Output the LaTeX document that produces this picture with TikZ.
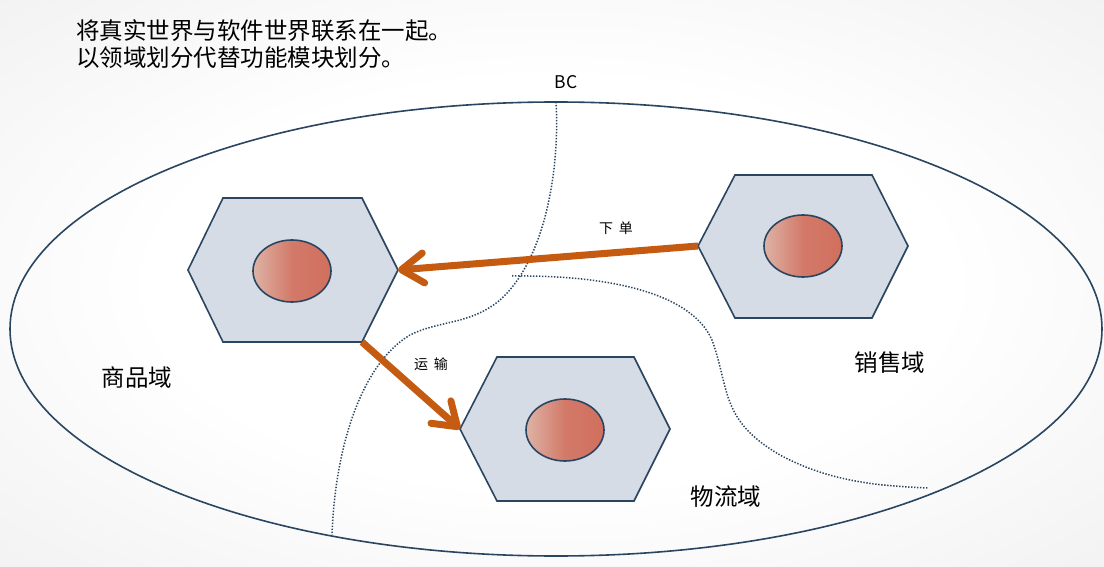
\documentclass[tikz,border=0pt]{standalone}
\usepackage{fontspec}
\setmainfont{Noto Sans CJK SC}
\newfontfamily\cjk{Noto Sans CJK SC}
\usetikzlibrary{arrows.meta}
\definecolor{hexfill}{HTML}{D6DCE5}
\definecolor{hexline}{HTML}{2A4560}
\definecolor{arrowc}{HTML}{C55A11}
\definecolor{redA}{HTML}{DDB3A6}
\definecolor{redB}{HTML}{D16F5E}
\definecolor{bgout}{HTML}{D8D8D8}
\pgfdeclareradialshading{bgshade}{\pgfpoint{0bp}{0bp}}{color(0bp)=(white); color(18bp)=(white); color(71bp)=(bgout); color(80bp)=(bgout)}
\tikzset{
  hexa/.style={draw=hexline, line width=1.6pt, fill=hexfill, line join=miter},
  core/.style={draw=hexline, line width=1.6pt, left color=redA, right color=redB, middle color=redB!85!redA},
  flow/.style={draw=arrowc, line width=7pt, -{Straight Barb[length=22pt,width=30pt,round]}},
  bcline/.style={draw=hexline, line width=1.5pt, dash pattern=on 1.4pt off 1.6pt},
  lbl/.style={font=\fontsize{23.5}{28}\selectfont, text=black, inner sep=0pt},
  hand/.style={font=\fontsize{14}{16}\selectfont, text=black, inner sep=0pt},
}
\begin{document}
\begin{tikzpicture}[x=1pt,y=-1pt]
\useasboundingbox (0,0) rectangle (1104,567);
\shade[shading=bgshade] (0,0) rectangle (1104,567);

% title
\node[lbl, anchor=west] (t1) at (76,31) {将真实世界与软件世界联系在一起。};
\node[lbl, anchor=west] (t2) at (76,58) {以领域划分代替功能模块划分。};

% big ellipse
\draw[hexline, line width=1.6pt] (556,329) ellipse [x radius=546, y radius=227];

% BC label and boundaries
\node[inner sep=0pt, font=\fontsize{17.5}{20}\selectfont] (bc) at (566,82) {BC};
\coordinate (c1a) at (556,102);
\coordinate (c1b) at (512,276);
\coordinate (c1c) at (332,535);
\coordinate (c2e) at (928,488);
\draw[bcline] (c1a) .. controls (560,170) and (545,260) .. (500,300)
   .. controls (470,325) and (440,320) .. (410,335)
   .. controls (360,365) and (335,450) .. (c1c);
\draw[bcline] (c1b) .. controls (600,275) and (690,290) .. (712,340)
   .. controls (730,390) and (720,420) .. (780,455)
   .. controls (830,482) and (880,486) .. (c2e);

% hexagons
\path[hexa] (188,270) -- (223,198) -- (362,198) -- (398,270) -- (362,342) -- (223,342) -- cycle;
\path[hexa] (698,246) -- (735,175) -- (872,175) -- (908,246) -- (872,318) -- (735,318) -- cycle;
\path[hexa] (460,429) -- (497,357) -- (634,357) -- (670,429) -- (634,501) -- (497,501) -- cycle;
\coordinate (h1r) at (398,270);
\coordinate (h1br) at (362,342);
\coordinate (h2l) at (698,246);
\coordinate (h3l) at (460,429);

\path[core] (292,271) ellipse [x radius=39, y radius=31];
\path[core] (803,246) ellipse [x radius=39, y radius=31];
\path[core] (565,430) ellipse [x radius=39, y radius=31];

% arrows
\draw[flow] (h2l) -- (h1r);
\draw[flow] (h1br) -- (h3l);

\node[hand] (xd) at (616,228) {下\hspace{6pt}单};
\node[hand] (ys) at (431,364) {运\hspace{6pt}输};

% domain labels
\node[lbl] (sp) at (137,378) {商品域};
\node[lbl] (xs) at (890,363) {销售域};
\node[lbl] (wl) at (726,497) {物流域};
\end{tikzpicture}
\end{document}
